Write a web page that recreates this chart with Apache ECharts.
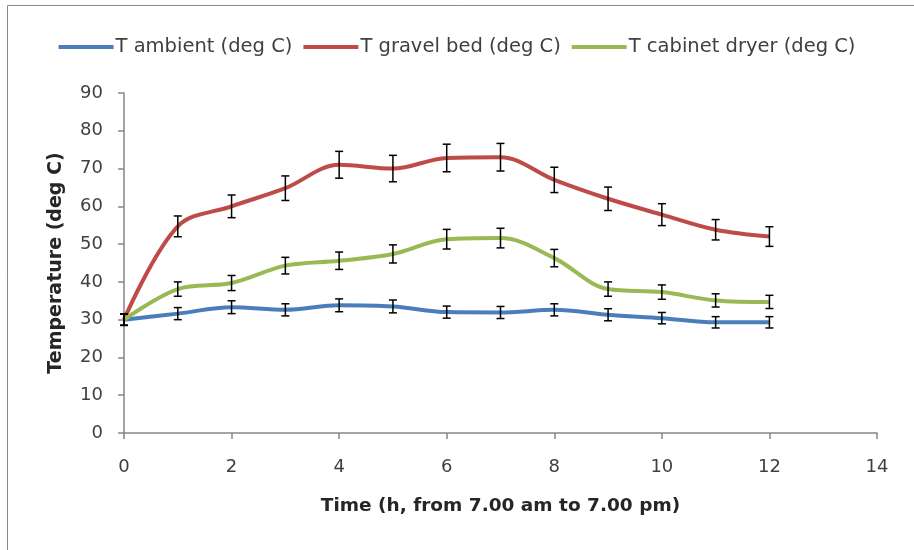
<!DOCTYPE html>
<html><head><meta charset="utf-8">
<script src="https://cdn.jsdelivr.net/npm/echarts@6/dist/echarts.min.js"></script>
<style>html,body{margin:0;padding:0;background:#fff}#c{width:914px;height:550px}</style>
</head><body><div id="c"></div>
<script>
const hours = [0,1,2,3,4,5,6,7,8,9,10,11,12];
const tAmbient = [30,31.6,33.3,32.6,33.8,33.5,32.0,31.9,32.6,31.3,30.4,29.3,29.3];
const tGravel  = [30,54.7,60,64.8,71,70,72.8,73,67,62,57.8,53.8,52];
const tCabinet = [30,38.1,39.7,44.3,45.6,47.4,51.3,51.6,46.3,38.1,37.3,35.1,34.7];
const errAmbient = [1.5,1.6,1.7,1.6,1.7,1.7,1.6,1.6,1.6,1.6,1.5,1.5,1.5];
const errGravel  = [1.5,2.75,3.0,3.25,3.55,3.5,3.65,3.65,3.35,3.1,2.9,2.7,2.6];
const errCabinet = [1.5,1.9,2.0,2.2,2.3,2.4,2.6,2.6,2.3,1.9,1.9,1.75,1.75];
const seriesNames = ['T ambient (deg C)','T gravel bed (deg C)','T cabinet dryer (deg C)'];
const colors = ['#4A7EBB','#BE4B48','#98B954'];
const xTitle = 'Time (h, from 7.00 am to 7.00 pm)';
const yTitle = 'Temperature (deg C)';

const FONT = 'DejaVu Sans';
const chart = echarts.init(document.getElementById('c'), null, {renderer:'canvas'});

function pairs(vals){ return hours.map((h,i)=>[h, vals[i]]); }
function errData(vals, errs){ return hours.map((h,i)=>[h, vals[i]-errs[i], vals[i]+errs[i]]); }
function errSeries(vals, errs){
  return {
    type:'custom', z:5, silent:true,
    data: errData(vals, errs),
    renderItem: function(params, api){
      const x = api.value(0);
      const lo = api.coord([x, api.value(1)]);
      const hi = api.coord([x, api.value(2)]);
      const w = 4;
      const st = {stroke:'#000', lineWidth:1.5};
      return {type:'group', children:[
        {type:'line', shape:{x1:lo[0],y1:lo[1],x2:hi[0],y2:hi[1]}, style:st},
        {type:'line', shape:{x1:lo[0]-w,y1:lo[1],x2:lo[0]+w,y2:lo[1]}, style:st},
        {type:'line', shape:{x1:hi[0]-w,y1:hi[1],x2:hi[0]+w,y2:hi[1]}, style:st}
      ]};
    }
  };
}
function lineSeries(name, vals, color){
  return {name:name, type:'line', data:pairs(vals), smooth:0.35, showSymbol:false, symbol:'none',
    lineStyle:{color:color, width:4}, itemStyle:{color:color}, z:3};
}

chart.setOption({
  animation:false,
  textStyle:{fontFamily:FONT},
  graphic:[{type:'rect', shape:{x:7.5,y:5.5,width:1000,height:1000}, style:{fill:'none', stroke:'#8a8a8a', lineWidth:1}, z:-1}],
  legend:{
    top:32, left:'center', itemGap:11, itemWidth:55, itemHeight:4, icon:'rect',
    data:seriesNames,
    textStyle:{fontFamily:FONT, fontSize:19.5, color:'#404040', padding:[0,0,0,-3]}
  },
  grid:{left:124, right:37, top:93, bottom:117, containLabel:false},
  xAxis:{
    type:'value', min:0, max:14, interval:2,
    name:xTitle, nameLocation:'middle', nameGap:64,
    nameTextStyle:{fontFamily:FONT, fontSize:18.5, fontWeight:'bold', color:'#262626'},
    axisLine:{show:true, lineStyle:{color:'#868686', width:1.5}},
    axisTick:{show:true, length:6, lineStyle:{color:'#868686', width:1.5}},
    axisLabel:{fontSize:18, color:'#404040', margin:25, fontFamily:FONT},
    splitLine:{show:false}
  },
  yAxis:{
    type:'value', min:0, max:90, interval:10,
    name:yTitle, nameLocation:'middle', nameGap:58, nameRotate:90,
    nameTextStyle:{fontFamily:FONT, fontSize:19, fontWeight:'bold', color:'#262626'},
    axisLine:{show:true, lineStyle:{color:'#868686', width:1.5}},
    axisTick:{show:true, length:6, lineStyle:{color:'#868686', width:1.5}},
    axisLabel:{fontSize:18, color:'#404040', margin:21, fontFamily:FONT},
    splitLine:{show:false}
  },
  series:[
    lineSeries(seriesNames[0], tAmbient, colors[0]),
    lineSeries(seriesNames[1], tGravel, colors[1]),
    lineSeries(seriesNames[2], tCabinet, colors[2]),
    errSeries(tAmbient, errAmbient),
    errSeries(tGravel, errGravel),
    errSeries(tCabinet, errCabinet)
  ]
});
</script></body></html>
